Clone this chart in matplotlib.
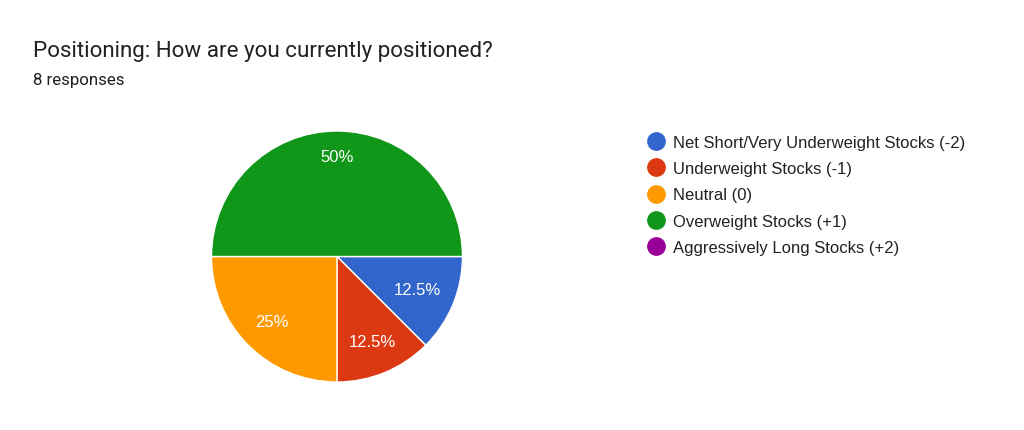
import matplotlib
matplotlib.use("Agg")
import matplotlib.pyplot as plt
from matplotlib.lines import Line2D

# survey answers, in the order they go round the pie (clockwise from 3 o'clock)
categories = ["Net Short/Very Underweight Stocks (-2)",
              "Underweight Stocks (-1)",
              "Neutral (0)",
              "Overweight Stocks (+1)",
              "Aggressively Long Stocks (+2)"]
responses = [1, 1, 2, 4, 0]
colours = ["#3366cc", "#dc3912", "#ff9900", "#109618", "#990099"]
title = "Positioning: How are you currently positioned?"
subtitle = "8 responses"

W, H = 1024, 431
fig = plt.figure(figsize=(W / 100, H / 100), dpi=100)

# pie centre (337, 257) px, radius ~126 px
cx, cy, r = 337, 257.5, 125.5
ax = fig.add_axes([(cx - r) / W, (H - cy - r) / H, 2 * r / W, 2 * r / H])

shown = [v for v in responses if v > 0]
shown_cols = [c for v, c in zip(responses, colours) if v > 0]

wedges, texts, autotexts = ax.pie(
    shown, colors=shown_cols, startangle=0, counterclock=False,
    autopct=lambda p: f"{p:g}%", pctdistance=0.73,
    wedgeprops=dict(edgecolor="white", linewidth=1),
    textprops=dict(color="white", fontsize=12, family="Liberation Sans"))
ax.set_xlim(-1, 1)
ax.set_ylim(-1, 1)

# google puts the labels at slightly different distances from the centre
label_dist = [0.69, 0.73, 0.73, 0.8]
for t, d in zip(autotexts, label_dist):
    x, y = t.get_position()
    t.set_position((x * d / 0.73, y * d / 0.73))

fig.text(33 / W, 1 - 56.7 / H, title, fontsize=16.1, family="Roboto",
         color="#212121", va="baseline", ha="left")
fig.text(33 / W, 1 - 85 / H, subtitle, fontsize=12.2, family="Roboto",
         color="#212121", va="baseline", ha="left")

handles = [Line2D([], [], marker="o", linestyle="none", markersize=12.5,
                  markerfacecolor=c, markeredgecolor=c) for c in colours]
fig.legend(handles, categories, loc="upper left",
           bbox_to_anchor=(646 / W, 1 - 136 / H), frameon=False,
           prop=dict(family="Liberation Sans", size=12),
           labelspacing=0.67, handletextpad=0.41, handlelength=1.2,
           borderaxespad=0, borderpad=0, labelcolor="#222222")

fig.savefig("out.png", dpi=100)
